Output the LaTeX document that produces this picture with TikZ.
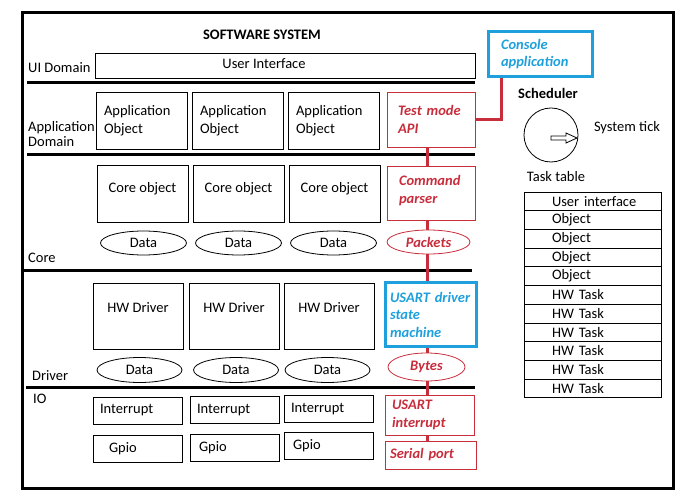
\documentclass[tikz,border=0pt]{standalone}
\usepackage{fontspec}
\setmainfont{Carlito}
\usetikzlibrary{shapes.geometric,positioning}
\definecolor{sysred}{RGB}{200,45,60}
\definecolor{sysblue}{RGB}{30,160,220}
\tikzset{
  box/.style={draw, line width=0.8, inner sep=0, minimum width=91, minimum height=57},
  objbox/.style={box, text width=75, align=left},
  iobox/.style={box, minimum width=89, minimum height=27, text width=75, align=left},
  redbox/.style={draw=sysred, line width=0.8, text=sysred, font=\bfseries\itshape, inner sep=0, align=left},
  bluebox/.style={draw=sysblue, line width=3.5, text=sysblue, font=\bfseries\itshape, inner sep=0, align=left},
  data/.style={ellipse, draw, line width=0.8, inner sep=0, minimum width=86, minimum height=24},
  reddata/.style={data, draw=sysred, text=sysred, font=\bfseries\itshape},
  side/.style={anchor=west, inner sep=0, align=left},
  layer/.style={line width=3},
  link/.style={draw=sysred, line width=3},
  taskrow/.style={draw, line width=0.8, minimum width=137, minimum height=18.7, inner xsep=7, inner ysep=0, text width=123, align=left}
}
\begin{document}
\fontsize{14.5}{17.5}\selectfont
\begin{tikzpicture}[x=1pt,y=-1pt]
\useasboundingbox (0,0) rectangle (692,502);
\draw[line width=3] (22,13) rectangle (673,488);
\node[font=\bfseries] (title) at (262,35) {SOFTWARE SYSTEM};
% layers
\draw[layer] (27,83) -- (475,83);
\draw[layer] (27,155) -- (475,155);
\draw[layer] (22,270) -- (472,270);
\draw[layer] (26,387) -- (475,387);
\node[side] (uidom) at (28,68) {UI Domain};
\node[side, font=\fontsize{14.5}{15}\selectfont] (appdom) at (28,134.5) {Application\\Domain};
\node[side] (coredom) at (28,258) {Core};
\node[side] (drvdom) at (32,376) {Driver};
\node[side] (iodom) at (33,399) {IO};
% UI
\node[box, minimum width=380, minimum height=25, label={[inner sep=0, xshift=-21, yshift=2]center:User Interface}] (ui) at (285,65.5) {};
\node[bluebox, minimum width=104, minimum height=45, text width=79] (console) at (540.5,54) {Console\\application};
% application domain
\foreach \x [count=\i] in {141.5,237.5,333.5}
  \node[objbox] (app\i) at (\x,120.5) {Application\\Object};
\node[redbox, minimum width=88, minimum height=55, text width=66] (api) at (431,119.5) {Test mode\\API};
% core
\foreach \x [count=\i] in {142.5,238.5,334.5}
  \node[box, text depth=13] (core\i) at (\x,193.5) {Core object};
\node[redbox, minimum width=88, minimum height=54, text width=64, text depth=25] (cmd) at (431,193) {Command\\parser};
\foreach \x [count=\i] in {143.5,238.5,333.5}
  \node[data] (cdata\i) at (\x,243) {Data};
\node[reddata, minimum width=83] (packets) at (428.5,242) {Packets};
% driver
\foreach \x [count=\i] in {138,234,329}
  \node[box, minimum width=90, minimum height=66, text depth=17] (drv\i) at (\x,316) {HW Driver};
\node[bluebox, minimum width=91, minimum height=64, text width=82] (usart) at (431,314.5) {USART driver\\state\\machine};
\foreach \x [count=\i] in {139.5,236,327.5}
  \node[data, minimum width=85, minimum height=25] (ddata\i) at (\x,370) {Data};
\node[reddata, minimum width=77, minimum height=28] (bytes) at (426.5,367) {Bytes};
% io
\foreach \x/\y [count=\i] in {137.5/410.5,234.5/410,328.5/409}
  \node[iobox] (irq\i) at (\x,\y) {Interrupt};
\foreach \x/\y/\w [count=\i] in {137.5/448.5/57,234.5/448/71,328.5/446/71}
  \node[iobox, text width=\w] (gpio\i) at (\x,\y) {Gpio};
\node[redbox, minimum width=89, minimum height=40, text width=75] (usint) at (429.5,415) {USART\\interrupt};
\node[redbox, minimum width=91, minimum height=28, text width=81] (serial) at (430.5,455) {Serial port};
% red path
\coordinate (bus) at (427,0);
\draw[link] ([xshift=-39.5]console.south) |- (api.east);
\foreach \a/\b in {api/cmd,cmd/packets,packets/usart,usart/bytes,bytes/usint,usint/serial}
  \draw[link] (\a.south -| bus) -- (\b.north -| bus);
% scheduler
\node[font=\bfseries] (sched) at (548,93) {Scheduler};
\node[circle, draw, line width=0.8, minimum size=54, inner sep=0] (tick) at (551,135) {};
\draw[line width=0.8] ([yshift=-3pt]tick.center) ++(0,-2) -- ++(15,0) -- ++(0,-3) -- ++(11,5) -- ++(-11,5) -- ++(0,-3) -- ++(-15,0) -- cycle;
\node (systick) at (627,128) {System tick};
\node (tasklbl) at (556,177) {Task table};
\foreach \txt [count=\i] in {User interface,Object,Object,Object,Object,HW Task,HW Task,HW Task,HW Task,HW Task,HW Task}
  \node[taskrow] (task\i) at (592.5,{192+18.7*(\i-0.5)}) {\hspace*{21pt}\txt};
\end{tikzpicture}
\end{document}
